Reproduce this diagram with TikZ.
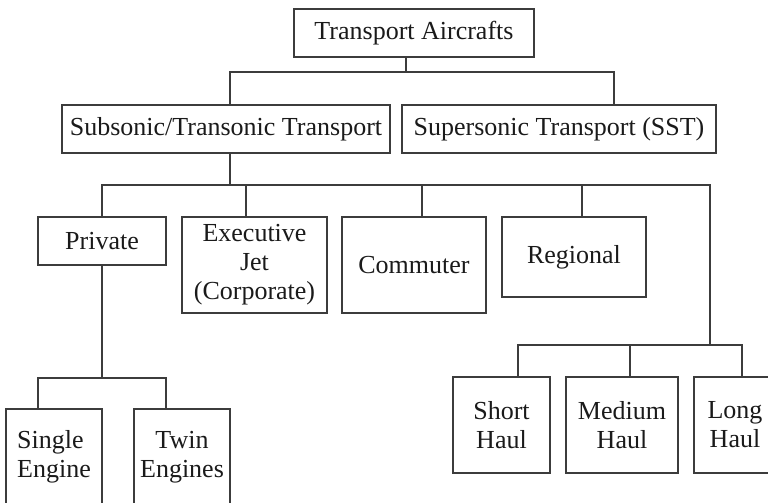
\documentclass[tikz,border=0pt]{standalone}
\usepackage{fontspec}
\setmainfont{Liberation Serif}
\definecolor{linegray}{HTML}{3C3C3C}
\definecolor{inkblack}{HTML}{1A1A1A}
\begin{document}
\begin{tikzpicture}[x=1pt,y=-1pt,
  box/.style={draw=linegray, line width=1.4pt, rectangle, inner sep=0pt,
    text=inkblack, align=center,
    font=\fontsize{26}{29}\selectfont},
  link/.style={draw=linegray, line width=1.4pt}]
\useasboundingbox (0,0) rectangle (768,503);
\clip (0,0) rectangle (768,503);

% level 0 and 1
\node[box, minimum width=240pt, minimum height=48pt] (top) at (414,33) {Transport Aircrafts};
\node[box, minimum width=328pt, minimum height=48pt] (sub) at (226,129) {Subsonic/Transonic Transport};
\node[box, minimum width=314pt, minimum height=48pt] (sst) at (559,129) {Supersonic Transport (SST)};

% level 2
\node[box, minimum width=128pt, minimum height=48pt] (priv) at (102,241) {Private};
\node[box, minimum width=145pt, minimum height=96pt] (exec) at (254.5,265) {Executive\\Jet\\(Corporate)};
\node[box, minimum width=144pt, minimum height=96pt] (comm) at (414,265) {Commuter};
\node[box, minimum width=144pt, minimum height=80pt] (regl) at (574,257) {Regional};

% level 3
\node[box, minimum width=96pt, minimum height=96pt, align=left] (single) at (54,457) {Single\\Engine};
\node[box, minimum width=96pt, minimum height=96pt] (twin) at (182,457) {Twin\\Engines};
\node[box, minimum width=97pt, minimum height=96pt] (short) at (501.5,425) {Short\\Haul};
\node[box, minimum width=112pt, minimum height=96pt] (medium) at (622,425) {Medium\\Haul};
\node[box, minimum width=82pt, minimum height=96pt] (long) at (735,425) {Long\\Haul};

% bus junctions
\coordinate (t1) at (406,72);
\coordinate (l1) at (230,72);
\coordinate (r1) at (614,72);

\coordinate (s2) at (230,185);
\coordinate (p2) at (102,185);
\coordinate (e2) at (246,185);
\coordinate (c2) at (422,185);
\coordinate (g2) at (582,185);
\coordinate (h2) at (710,185);

\coordinate (q3) at (102,378);
\coordinate (a3) at (38,378);
\coordinate (b3) at (166,378);

\coordinate (h4) at (710,345);
\coordinate (x1) at (518,345);
\coordinate (x2) at (630,345);
\coordinate (x3) at (742,345);

% connectors
\draw[link] (t1 |- top.south) -- (t1);
\draw[link] (l1 |- sub.north) -- (l1) -- (r1) -- (r1 |- sst.north);

\draw[link] (s2 |- sub.south) -- (s2);
\draw[link] (p2 |- priv.north) -- (p2) -- (h2) -- (h4);
\draw[link] (e2) -- (e2 |- exec.north);
\draw[link] (c2) -- (c2 |- comm.north);
\draw[link] (g2) -- (g2 |- regl.north);

\draw[link] (q3 |- priv.south) -- (q3);
\draw[link] (a3 |- single.north) -- (a3) -- (b3) -- (b3 |- twin.north);

\draw[link] (x1 |- short.north) -- (x1) -- (x3) -- (x3 |- long.north);
\draw[link] (x2) -- (x2 |- medium.north);
\end{tikzpicture}
\end{document}
